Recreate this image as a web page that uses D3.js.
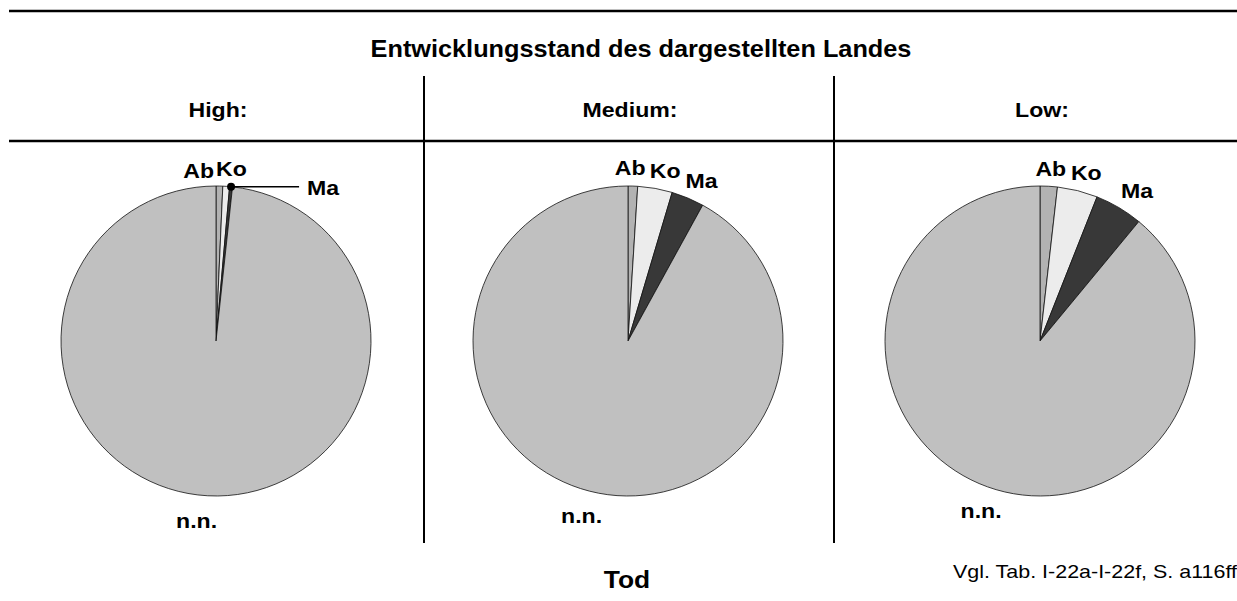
<!DOCTYPE html>
<html>
<head>
<meta charset="utf-8">
<script src="https://cdn.jsdelivr.net/npm/d3@7"></script>
<style>
  body { margin: 0; background: #fff; }
  text { font-family: "Liberation Sans", Arial, sans-serif; }
</style>
</head>
<body>
<script>
// Data
const groups = ['High:', 'Medium:', 'Low:']
const categories = ['Ab', 'Ko', 'Ma', 'n.n.']
const highValues = [0.7, 0.7, 0.3, 98.3]
const mediumValues = [1.0, 3.6, 3.4, 92.0]
const lowValues = [1.8, 4.2, 5.0, 89.0]
const title = 'Entwicklungsstand des dargestellten Landes'
const footer = 'Tod'
const note = 'Vgl. Tab. I-22a-I-22f, S. a116ff'

const colors = {
  Ab: '#b2b2b2',
  Ko: '#ececec',
  Ma: '#383838',
  'n.n.': '#c0c0c0'
}

const width = 1237
const height = 601
const radius = 155
const stretch = 1.1 // the source text is a bit wider than Arial

function initializeSVG () {
  return d3.select('body')
    .append('svg')
    .attr('width', width)
    .attr('height', height)
}

function addText (parent, x, y, str, size, opts = {}) {
  return parent.append('text')
    .attr('transform', `translate(${x},${y}) scale(${opts.sx || stretch},1)`)
    .attr('text-anchor', opts.anchor || 'middle')
    .attr('dy', opts.dy || 0)
    .style('font-size', size + 'px')
    .style('font-weight', opts.normal ? 'normal' : 'bold')
    .text(str)
}

function drawFrame (svg, x) {
  svg.append('line')
    .attr('x1', 9).attr('x2', width).attr('y1', 11).attr('y2', 11)
    .attr('stroke', '#000').attr('stroke-width', 2.5)
  svg.append('line')
    .attr('x1', 9).attr('x2', width).attr('y1', 141).attr('y2', 141)
    .attr('stroke', '#000').attr('stroke-width', 2.5)

  // separators between the columns
  const bounds = [424, 834]
  bounds.forEach(bx => {
    svg.append('line')
      .attr('x1', bx).attr('x2', bx).attr('y1', 76).attr('y2', 543)
      .attr('stroke', '#000').attr('stroke-width', 2)
  })

  addText(svg, 641, 57, title, 23)

  groups.forEach(grp => {
    addText(svg, x(grp) + 2, 117, grp, 21)
  })

  addText(svg, 627, 588, footer, 24)
  addText(svg, 953, 578, note, 19, { anchor: 'start', normal: true, sx: 1.13 })
}

function drawPie (svg, cx, cy, values) {
  const data = categories.map((c, i) => ({ name: c, value: values[i] }))
  const pie = d3.pie().sort(null).value(d => d.value)
  const arc = d3.arc().innerRadius(0).outerRadius(radius)
  const arcs = pie(data)

  const g = svg.append('g').attr('transform', `translate(${cx},${cy})`)

  g.selectAll('path')
    .data(arcs)
    .enter().append('path')
    .attr('d', arc)
    .attr('fill', d => colors[d.data.name])
    .attr('stroke', '#111')
    .attr('stroke-width', 0.8)

  const crowded = values[2] < 1
  const labelSize = 21
  const boxW = 31

  const labels = arcs.map(d => {
    const name = d.data.name
    const a = (d.startAngle + d.endAngle) / 2
    const s = Math.sin(a)
    const c = Math.cos(a)
    const l = { name: name, s: s, c: c, anchor: 'middle' }
    if (name === 'n.n.') {
      l.x = s * (radius + 18) * 0.8 - 12
      l.y = -c * (radius + 18) + 7
    } else {
      // keep the label box just outside the rim
      l.x = s * (radius + 11) + s * boxW * 0.8
      l.y = -c * (radius + 11) - 7
    }
    return l
  })

  // push neighbouring small labels apart
  for (let i = 1; i < 3; i++) {
    const gap = labels[i].x - labels[i - 1].x
    const need = boxW + 4
    if (gap < need) {
      const shift = (need - gap) / 2
      for (let j = 0; j < i; j++) labels[j].x -= shift
      labels[i].x += shift
    }
  }

  labels.forEach(l => {
    if (crowded && l.name !== 'n.n.') {
      if (l.name === 'Ab') { l.x = -2; l.y = -radius - 15; l.anchor = 'end' }
      if (l.name === 'Ko') { l.x = 0; l.y = -radius - 17; l.anchor = 'start' }
      if (l.name === 'Ma') {
        const px = l.s * radius
        const py = -l.c * radius
        g.append('circle').attr('cx', px).attr('cy', py).attr('r', 4).attr('fill', '#000')
        g.append('line')
          .attr('x1', px).attr('y1', py).attr('x2', px + 68).attr('y2', py)
          .attr('stroke', '#000').attr('stroke-width', 1.5)
        l.x = px + 76; l.y = py + 1; l.anchor = 'start'
      }
    }
    addText(g, l.x, l.y, l.name, labelSize, { anchor: l.anchor, dy: '0.35em' })
  })
}

function main () {
  const svg = initializeSVG()
  const x = d3.scalePoint().domain(groups).range([216, 1040])
  drawFrame(svg, x)

  const series = [highValues, mediumValues, lowValues]
  groups.forEach((grp, i) => drawPie(svg, x(grp), 341, series[i]))
}

main()
</script>
</body>
</html>
